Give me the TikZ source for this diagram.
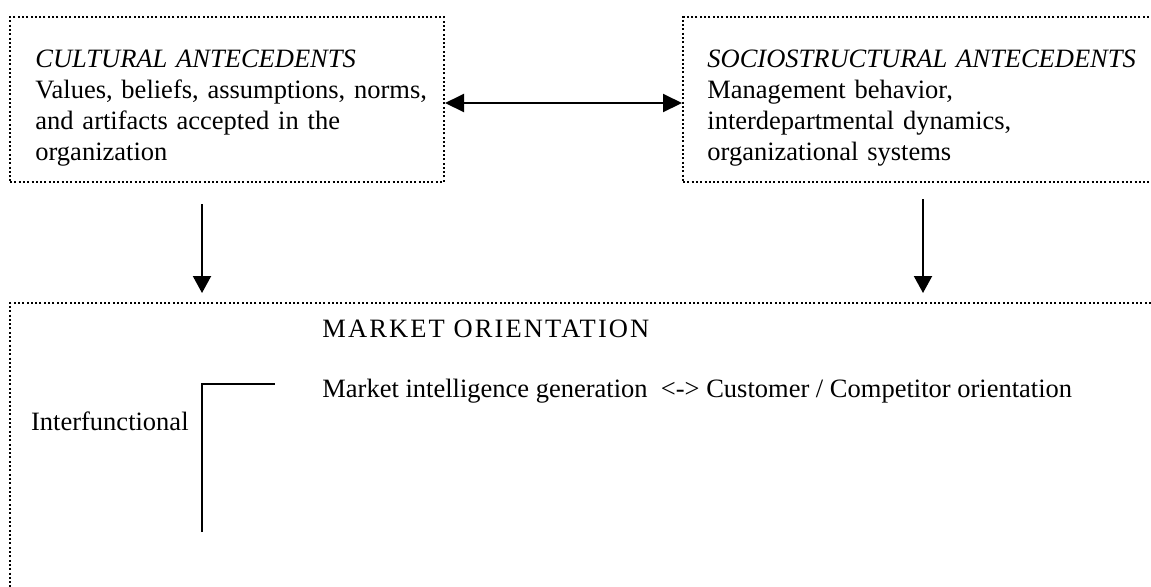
\documentclass[tikz,border=0pt]{standalone}
\usepackage{fontspec}
\setmainfont{Liberation Serif}
\usetikzlibrary{arrows.meta, positioning, calc}
\frenchspacing

\begin{document}
\begin{tikzpicture}[
    x=0.5pt, y=-0.5pt,
    frame/.style={draw, line width=1pt, dash pattern=on 1pt off 1.15pt,
                  inner sep=0pt, anchor=north west},
    txt/.style={anchor=base west, inner sep=0pt, align=left,
                font=\fontsize{13.25}{15.5}\selectfont},
    arr/.style={-{Triangle[length=8.5pt, width=9pt]}, line width=1pt},
    dbl/.style={{Triangle[length=9.5pt, width=9pt]}-{Triangle[length=9.5pt, width=9pt]}, line width=1pt},
]
\useasboundingbox (0,0) rectangle (1151,586);
\clip (0,0) rectangle (1151,586);

\node[frame, minimum width=217pt, minimum height=82.5pt] (cult) at (9,16) {};
\node[frame, minimum width=244pt, minimum height=82.5pt] (socio) at (682,16) {};
\node[frame, minimum width=580pt, minimum height=150pt] (mo) at (9,302) {};

\node[txt, text width=205pt] (culttxt) at ($(cult.north west)+(26,51)$)
    {\textit{CULTURAL ANTECEDENTS}\\Values, beliefs, assumptions, norms,\\and artifacts accepted in the\\organization};
\node[txt, text width=225pt] (sociotxt) at ($(socio.north west)+(25,51)$)
    {\textit{SOCIOSTRUCTURAL ANTECEDENTS}\\Management behavior,\\interdepartmental dynamics,\\organizational systems};

\node[txt] (motitle) at ($(mo.north west)+(313,35)$)
    {\addfontfeature{LetterSpace=8}MARKET ORIENTATION};
\node[txt] (mogen) at ($(mo.north west)+(313,95)$)
    {Market intelligence generation\ \ <-> Customer / Competitor orientation};

\coordinate (brtop) at (202,384);
\coordinate (brbot) at (202,532);
\coordinate (brend) at (275,384);
\draw[line width=1pt] (brbot) -- (brtop) -- (brend);
\node[txt, anchor=base east] (interf) at ($(brtop)+(-13,46)$) {Interfunctional};

\draw[dbl] ([yshift=-1.75pt]cult.east) -- ([yshift=-1.75pt]socio.west);
\draw[arr] ($(cult.south west)+(193,21)$) -- ($(mo.north west)+(193,-9)$);
\draw[arr] ($(socio.south west)+(241,16)$) -- ($(mo.north west)+(914,-9)$);
\end{tikzpicture}
\end{document}
